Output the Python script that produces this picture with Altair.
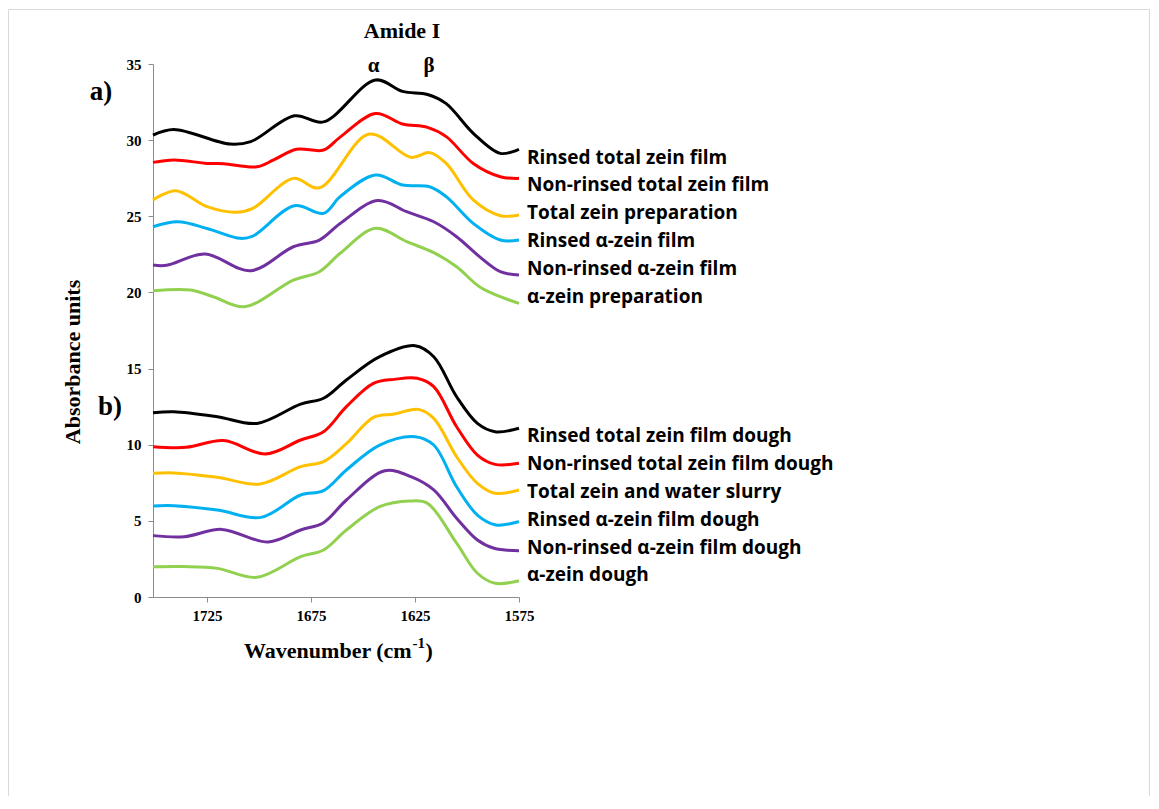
import altair as alt
import pandas as pd

# ---------------- data ----------------
series_names = [
    "Rinsed total zein film", "Non-rinsed total zein film", "Total zein preparation",
    "Rinsed α-zein film", "Non-rinsed α-zein film", "α-zein preparation",
    "Rinsed total zein film dough", "Non-rinsed total zein film dough",
    "Total zein and water slurry", "Rinsed α-zein film dough",
    "Non-rinsed α-zein film dough", "α-zein dough",
]
series_colors = ["#000000", "#FF0000", "#FFC000", "#00B0F0", "#7030A0", "#92D050"] * 2

black_a_wn = [1751, 1741, 1714, 1704, 1683, 1669, 1644, 1631, 1619, 1610, 1597, 1584, 1575]
black_a = [30.33, 30.7, 29.74, 29.9, 31.6, 31.2, 33.95, 33.2, 33.0, 32.4, 30.45, 29.13, 29.4]

red_a_wn = [1751, 1741, 1725, 1717, 1701, 1693, 1682, 1669, 1661, 1644, 1631, 1619, 1610, 1597, 1584, 1575]
red_a = [28.54, 28.7, 28.47, 28.45, 28.25, 28.7, 29.4, 29.35, 30.2, 31.75, 31.06, 30.84, 30.23, 28.47, 27.6, 27.49]

yellow_a_wn = [1751, 1740, 1725, 1711, 1703, 1683.5, 1671, 1647, 1627, 1618, 1610, 1597, 1584, 1575]
yellow_a = [26.07, 26.68, 25.63, 25.26, 25.52, 27.49, 26.87, 30.4, 28.87, 29.18, 28.47, 26.07, 25.04, 25.08]

blue_a_wn = [1751, 1739, 1725, 1709, 1703, 1683, 1669, 1661, 1644, 1631, 1618, 1610, 1597, 1584, 1575]
blue_a = [24.31, 24.64, 24.2, 23.55, 23.7, 25.69, 25.19, 26.29, 27.71, 27.05, 26.94, 26.29, 24.53, 23.44, 23.44]

purple_a_wn = [1751, 1744.5, 1726, 1704, 1683.5, 1671, 1661, 1643, 1629, 1616, 1605, 1594, 1584, 1575]
purple_a = [21.8, 21.78, 22.52, 21.43, 23.0, 23.44, 24.53, 26.03, 25.3, 24.64, 23.66, 22.35, 21.36, 21.14]

green_a_wn = [1751, 1733, 1722, 1707, 1683.5, 1671, 1661, 1644, 1629, 1616, 1605, 1594, 1584, 1575]
green_a = [20.11, 20.16, 19.72, 19.06, 20.81, 21.36, 22.57, 24.21, 23.33, 22.61, 21.69, 20.37, 19.72, 19.28]

black_b_wn = [1751, 1741, 1720, 1701, 1680, 1669, 1658, 1642, 1625, 1616, 1605, 1595, 1586.5, 1575]
black_b = [12.1, 12.17, 11.84, 11.4, 12.67, 13.05, 14.25, 15.78, 16.5, 15.78, 13.15, 11.4, 10.85, 11.08]

red_b_wn = [1751, 1735, 1717, 1697, 1680, 1669, 1658, 1645, 1635, 1624, 1616, 1605, 1595, 1586.5, 1575]
red_b = [9.87, 9.83, 10.27, 9.39, 10.31, 10.85, 12.5, 14.03, 14.29, 14.36, 13.81, 11.18, 9.32, 8.71, 8.78]

yellow_b_wn = [1751, 1741, 1720, 1699.5, 1680, 1669, 1658, 1645, 1635, 1623.5, 1616, 1605, 1595, 1586.5, 1575]
yellow_b = [8.12, 8.15, 7.86, 7.42, 8.56, 8.89, 10.07, 11.8, 12.02, 12.32, 11.73, 9.21, 7.46, 6.81, 7.03]

blue_b_wn = [1751, 1741, 1720, 1699, 1680, 1669, 1658, 1642, 1625, 1616, 1605, 1595, 1586, 1575]
blue_b = [5.98, 6.0, 5.71, 5.23, 6.7, 6.98, 8.34, 9.98, 10.53, 9.98, 7.24, 5.38, 4.73, 4.95]

purple_b_wn = [1751, 1736, 1718, 1695.5, 1680, 1669, 1658, 1639.5, 1627, 1616, 1605, 1595, 1587, 1575]
purple_b = [4.03, 3.96, 4.44, 3.61, 4.4, 4.88, 6.37, 8.29, 7.9, 7.03, 5.17, 3.74, 3.2, 3.04]

green_b_wn = [1751, 1736, 1720, 1701, 1680, 1669, 1658, 1642, 1627.5, 1619, 1605, 1595, 1586.5, 1575]
green_b = [1.99, 2.0, 1.88, 1.29, 2.65, 3.09, 4.4, 5.93, 6.3, 6.15, 3.53, 1.56, 0.9, 1.07]

label_y = [28.82, 27.05, 25.21, 23.37, 21.53, 19.7, 10.57, 8.73, 6.89, 5.06, 3.22, 1.44]

x_ticks = [1725, 1675, 1625, 1575]
y_ticks = [0, 5, 10, 15, 20, 25, 30, 35]

# ---------------- build tables ----------------
all_wn = [black_a_wn, red_a_wn, yellow_a_wn, blue_a_wn, purple_a_wn, green_a_wn,
          black_b_wn, red_b_wn, yellow_b_wn, blue_b_wn, purple_b_wn, green_b_wn]
all_val = [black_a, red_a, yellow_a, blue_a, purple_a, green_a,
           black_b, red_b, yellow_b, blue_b, purple_b, green_b]

rows = []
for name, wns, vals in zip(series_names, all_wn, all_val):
    for w, v in zip(wns, vals):
        rows.append({"series": name, "wn": w, "val": v})
df = pd.DataFrame(rows)
labels_df = pd.DataFrame({"series": series_names, "ly": label_y})

W, H = 366, 533
PAD_L, PAD_T = 145, 56
TOTAL_W, TOTAL_H = 1142, 788
serif = "Liberation Serif"

x_scale = alt.Scale(domain=[1575, 1751], reverse=True, nice=False, zero=False)
y_scale = alt.Scale(domain=[0, 35], nice=False)
color_scale = alt.Scale(domain=series_names, range=series_colors)

axis_common = dict(
    grid=False, title=None, labelFont=serif, labelFontWeight="bold", labelFontSize=15,
    labelColor="black", domainColor="#8c8c8c", tickColor="#8c8c8c", tickSize=5,
    labelFlush=False, format="d",
)

lines = alt.Chart(df).mark_line(interpolate="catmull-rom", strokeWidth=3).encode(
    x=alt.X("wn:Q", scale=x_scale, axis=alt.Axis(values=x_ticks, labelPadding=6, **axis_common)),
    y=alt.Y("val:Q", scale=y_scale, axis=alt.Axis(values=y_ticks, labelPadding=7, **axis_common)),
    color=alt.Color("series:N", scale=color_scale, legend=None),
    detail="series:N",
)

labels = alt.Chart(labels_df).mark_text(
    align="left", baseline="middle", font="Open Sans", fontWeight="bold", fontSize=19, color="black"
).encode(
    x=alt.value(374),
    y=alt.Y("ly:Q", scale=y_scale),
    text="series:N",
)

one = alt.Data(values=[{"k": 1}])


def note(text, x, y, size, align="center", baseline="alphabetic", angle=0, font=serif):
    kw = dict(text=text, align=align, baseline=baseline, font=font, fontWeight="bold",
              fontSize=size, color="black")
    if angle:
        kw["angle"] = angle
    return alt.Chart(one).mark_text(**kw).encode(x=alt.value(x), y=alt.value(y))


notes = [
    note("Amide I", 249, -26, 22),
    note("α", 220.5, 8, 21),
    note("β", 276, 8, 21),
    note("a)", -52, 36, 27),
    note("b)", -43, 351, 27),
    note("Absorbance units", -80, 298, 22, baseline="middle", angle=270),
    note("Wavenumber (cm", 258.7, 593.7, 22, align="right"),
    note("-1", 259.5, 584, 15, align="left"),
    note(")", 272.5, 593.7, 22, align="left"),
]

border = alt.Chart(one).mark_rect(fillOpacity=0, stroke="#d9d9d9", strokeWidth=1).encode(
    x=alt.value(-PAD_L + 0.5), x2=alt.value(TOTAL_W - PAD_L - 0.5),
    y=alt.value(-PAD_T + 1.5), y2=alt.value(TOTAL_H - PAD_T + 20),
)

chart = alt.layer(border, lines, labels, *notes).properties(
    width=W, height=H,
    autosize=alt.AutoSizeParams(type="none"),
    padding={"left": PAD_L, "top": PAD_T, "right": TOTAL_W - PAD_L - W, "bottom": TOTAL_H - PAD_T - H},
).configure_view(stroke="transparent")

chart.save("out.html", embed_options={"renderer": "svg", "actions": False})
